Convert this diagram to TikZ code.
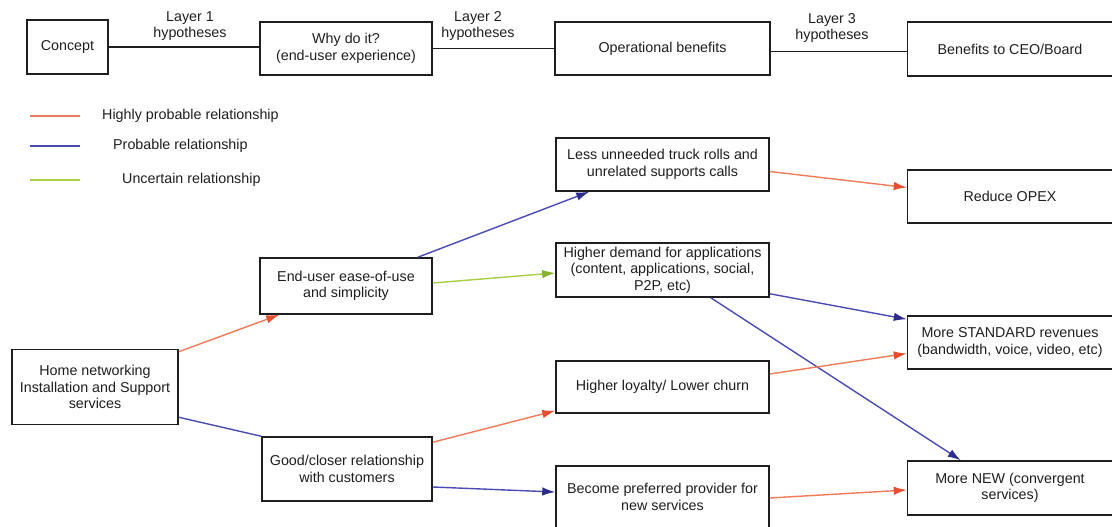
\documentclass[tikz,border=0pt]{standalone}
\usepackage{fontspec}
\setmainfont{Liberation Sans}
\usetikzlibrary{arrows.meta,calc}
\definecolor{hp}{HTML}{F07A58}
\definecolor{hphead}{HTML}{E4502E}
\definecolor{pr}{HTML}{4A4AB4}
\definecolor{prhead}{HTML}{2C2C8C}
\definecolor{un}{HTML}{A6D040}
\definecolor{unhead}{HTML}{84B22C}
\definecolor{ink}{HTML}{1E1E1E}
\tikzset{
  box/.style={draw=ink, line width=1.5pt, fill=white, align=center, text=ink,
    font=\fontsize{14.3}{16.5}\selectfont, inner sep=2pt},
  lbl/.style={align=center, text=ink, font=\fontsize{14.3}{15.5}\selectfont, inner sep=0pt},
  legtxt/.style={anchor=west, text=ink, font=\fontsize{14.3}{16.5}\selectfont, inner sep=0pt},
  plain/.style={draw=ink, line width=1.5pt},
  hprel/.style={draw=hp, line width=1.4pt},
  prrel/.style={draw=pr, line width=1.4pt},
  unrel/.style={draw=un, line width=1.4pt},
  hparr/.style={hprel, -{Latex[length=13pt,width=8.5pt,fill=hphead,color=hphead]}},
  prarr/.style={prrel, -{Latex[length=13pt,width=8.5pt,fill=prhead,color=prhead]}},
  unarr/.style={unrel, -{Latex[length=13pt,width=8.5pt,fill=unhead,color=unhead]}},
}
\begin{document}
\begin{tikzpicture}[x=1pt,y=-1pt]
\useasboundingbox (0,0) rectangle (1112,527);

% top row
\node[box, minimum width=81pt, minimum height=54pt] (concept) at (67.5,47) {Concept};
\node[box, minimum width=172pt, minimum height=53pt] (why) at (346,48.5) {Why do it?\\(end-user experience)};
\node[box, minimum width=215pt, minimum height=53pt] (ops) at (662.5,48.5) {Operational benefits};
\node[box, minimum width=205pt, minimum height=54pt] (ceo) at (1010,49) {Benefits to CEO/Board};

\draw[plain] (concept.east) -- (why.west |- concept.east);
\draw[plain] (why.east) -- (ops.west |- why.east);
\draw[plain] ($(ops.east)+(0,3)$) -- ($(ceo.west)+(0,2.5)$);

\node[lbl] (l1) at (190,26) {Layer 1\\hypotheses};
\node[lbl] (l2) at (478,26) {Layer 2\\hypotheses};
\node[lbl] (l3) at (832,28) {Layer 3\\hypotheses};

% legend
\coordinate (a1) at (30,116); \coordinate (b1) at (80,116);
\coordinate (a2) at (30,146); \coordinate (b2) at (80,146);
\coordinate (a3) at (30,180); \coordinate (b3) at (80,180);
\draw[hprel] (a1) -- (b1);
\draw[prrel] (a2) -- (b2);
\draw[unrel] (a3) -- (b3);
\node[legtxt] (t1) at (102,116) {Highly probable relationship};
\node[legtxt] (t2) at (113,146) {Probable relationship};
\node[legtxt] (t3) at (122,180) {Uncertain relationship};

% nodes
\node[box, minimum width=166pt, minimum height=75pt] (home) at (95,387) {Home networking\\Installation and Support\\services};
\node[box, minimum width=172pt, minimum height=56pt] (eu) at (346,286) {End-user ease-of-use\\and simplicity};
\node[box, minimum width=170pt, minimum height=64pt] (good) at (347,469) {Good/closer relationship\\with customers};
\node[box, minimum width=213pt, minimum height=53pt] (less) at (662.5,164.5) {Less unneeded truck rolls and\\unrelated supports calls};
\node[box, minimum width=213pt, minimum height=54pt] (demand) at (662.5,270) {Higher demand for applications\\(content, applications, social,\\P2P, etc)};
\node[box, minimum width=213pt, minimum height=52pt] (loyalty) at (662.5,387) {Higher loyalty/ Lower churn};
\node[box, minimum width=213pt, minimum height=62pt] (pref) at (662.5,497) {Become preferred provider for\\new services};
\node[box, minimum width=205pt, minimum height=53pt] (opex) at (1010,196.5) {Reduce OPEX};
\node[box, minimum width=205pt, minimum height=53pt] (std) at (1010,342.5) {More STANDARD revenues\\(bandwidth, voice, video, etc)};
\node[box, minimum width=205pt, minimum height=54pt] (new) at (1010,488) {More NEW (convergent\\services)};

% connectors
\draw[hparr] ($(home.north east)+(0,3)$) -- ($(eu.south west)+(20,0)$);
\draw[prrel] ($(home.south east)+(0,-8)$) -- (good.north west);
\draw[prarr] ($(eu.north east)+(-15,0)$) -- ($(less.south west)+(34,0)$);
\draw[unarr] ($(eu.east)+(0,-3)$) -- ($(demand.west)+(0,3)$);
\draw[hparr] ($(less.east)+(0,7)$) -- ($(opex.west)+(0,-9)$);
\draw[prarr] ($(demand.south east)+(0,-4)$) -- ($(std.north west)+(0,4)$);
\draw[prarr] ($(demand.south east)+(-59,0)$) -- ($(new.north west)+(54,0)$);
\draw[hparr] ($(loyalty.east)+(0,-13)$) -- ($(std.west)+(0,11)$);
\draw[hparr] ($(good.north east)+(0,6)$) -- ($(loyalty.south west)+(0,-3)$);
\draw[prarr] ($(good.east)+(0,18)$) -- ($(pref.west)+(0,-5)$);
\draw[hparr] ($(pref.east)+(0,1)$) -- ($(new.west)+(0,2)$);
\end{tikzpicture}
\end{document}
